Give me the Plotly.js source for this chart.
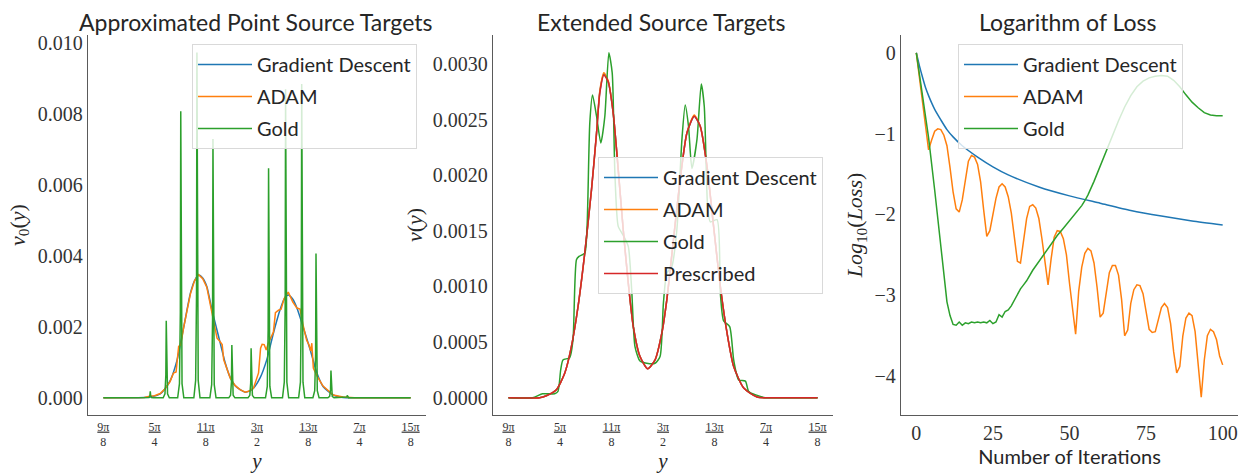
<!DOCTYPE html>
<html><head><meta charset="utf-8">
<script src="https://cdn.plot.ly/plotly-3.0.1.min.js"></script>
<style>html,body{margin:0;padding:0;background:#fff}#chart{width:1244px;height:473px}</style>
</head><body><div id="chart"></div>
<script>
// ---------- Panel 1: Approximated point source targets (x in multiples of pi/8) ----------
const p1GdX = [9.0,9.6,9.8,9.95,10.11,10.2,10.31,10.44,10.57,10.70,10.78,10.86,10.94,11.02,11.12,11.25,11.38,11.48,11.57,11.67,11.77,11.85,11.93,12.06,12.19,12.32,12.45,12.53,12.61,12.70,12.78,12.90,13.04,13.17,13.29,13.49,13.68,13.9,15.0];
const p1GdY = [0,0,0.000005,0.00003,0.00011,0.00025,0.0005,0.00107,0.0020,0.00295,0.0033,0.00346,0.00338,0.00314,0.00248,0.00173,0.00098,0.00056,0.00035,0.00023,0.00016,0.00019,0.00027,0.00056,0.00107,0.00182,0.00248,0.00278,0.0029,0.00278,0.00253,0.0020,0.00135,0.0007,0.00032,0.00008,0.00001,0,0];
const p1AdamX = [9.0,9.6,9.8,9.92,10.0,10.11,10.2,10.3,10.37,10.42,10.47,10.51,10.57,10.70,10.78,10.86,10.94,11.02,11.12,11.18,11.22,11.27,11.32,11.35,11.48,11.57,11.67,11.77,11.85,11.93,12.03,12.07,12.10,12.14,12.18,12.22,12.32,12.36,12.42,12.47,12.53,12.61,12.70,12.78,12.84,12.90,12.97,13.016,13.05,13.07,13.10,13.17,13.29,13.49,13.68,13.9,15.0];
const p1AdamY = [0,0,0.00001,0.00005,0.00006,0.00012,0.00025,0.00045,0.0007,0.00073,0.00145,0.00149,0.002,0.00293,0.0033,0.00347,0.00336,0.00312,0.00245,0.00195,0.00168,0.0016,0.0015,0.00107,0.00055,0.00035,0.00023,0.00016,0.00019,0.00027,0.0007,0.0014,0.00151,0.0015,0.00135,0.00154,0.00185,0.0024,0.00247,0.0025,0.0028,0.00298,0.0027,0.00253,0.0025,0.00205,0.00162,0.00149,0.00132,0.00154,0.00084,0.00062,0.00033,0.00008,0.00002,0,0];
const p1GoldX = [9.0,
  9.856,9.891,9.908,9.916,9.924,9.941,9.976,
  10.168,10.203,10.220,10.228,10.236,10.253,10.288,
  10.451,10.486,10.503,10.511,10.519,10.536,10.571,
  10.767,10.802,10.819,10.827,10.835,10.852,10.887,
  11.080,11.115,11.132,11.140,11.148,11.165,11.200,
  11.449,11.484,11.501,11.509,11.517,11.534,11.569,
  11.825,11.860,11.877,11.885,11.893,11.910,11.945,
  12.166,12.201,12.218,12.226,12.234,12.251,12.286,
  12.498,12.533,12.550,12.558,12.566,12.583,12.618,
  12.813,12.848,12.865,12.873,12.881,12.898,12.933,
  13.092,13.127,13.144,13.152,13.160,13.177,13.212,
  13.384,13.419,13.436,13.444,13.452,13.469,13.504,
  13.702,13.737,13.754,13.762,13.770,13.787,13.822,
  15.0];
const p1GoldY = [0,
  0,0.000009,0.000054,0.00018,0.000054,0.000009,0,
  0,0.00011,0.00065,0.00217,0.00065,0.00011,0,
  0,0.0004,0.00242,0.00808,0.00242,0.0004,0,
  0,0.00049,0.00292,0.00974,0.00292,0.00049,0,
  0,0.00037,0.00219,0.0073,0.00219,0.00037,0,
  0,0.000075,0.00045,0.00149,0.00045,0.000075,0,
  0,0.00007,0.00042,0.0014,0.00042,0.00007,0,
  0,0.00032,0.00194,0.00647,0.00194,0.00032,0,
  0,0.00044,0.00261,0.0087,0.00261,0.00044,0,
  0,0.00044,0.00266,0.00885,0.00266,0.00044,0,
  0,0.0002,0.00122,0.00407,0.00122,0.0002,0,
  0,0.00004,0.00023,0.00077,0.00023,0.00004,0,
  0,0.0000035,0.00002,0.00007,0.00002,0.0000035,0,
  0];

// ---------- Panel 2: Extended source targets ----------
const p2PresX = [9.0,9.604,9.735,9.930,10.092,10.222,10.351,10.481,10.612,10.710,10.774,10.852,10.936,11.033,11.131,11.228,11.326,11.423,11.554,11.704,11.846,11.977,12.074,12.203,12.333,12.464,12.606,12.723,12.854,12.982,13.113,13.244,13.372,13.567,13.828,14.2,15.0];
const p2PresY = [0,0,0.000018,0.000072,0.00022,0.00046,0.00082,0.0013,0.00187,0.00238,0.00274,0.0029,0.00284,0.00256,0.00205,0.00151,0.00103,0.00064,0.00037,0.00026,0.00034,0.00058,0.00088,0.00142,0.00196,0.00238,0.00253,0.00244,0.00208,0.00154,0.001,0.00058,0.00028,0.000087,0.000006,0,0];
const p2GdY   = [0,0,0.000018,0.000072,0.00022,0.00046,0.00082,0.0013,0.00187,0.00238,0.00275,0.00291,0.00284,0.00256,0.00205,0.00151,0.00103,0.00064,0.00037,0.00026,0.00034,0.00058,0.00088,0.00142,0.00196,0.00238,0.00253,0.00244,0.00208,0.00154,0.001,0.00058,0.00028,0.000087,0.000006,0,0];
const p2AdamY = [0,0,0.000018,0.000072,0.00022,0.00046,0.00082,0.0013,0.00187,0.00238,0.00276,0.00292,0.00285,0.00256,0.00205,0.00151,0.00103,0.00064,0.00037,0.00026,0.00034,0.00058,0.00088,0.00142,0.00196,0.00238,0.00254,0.00244,0.00208,0.00154,0.001,0.00058,0.00028,0.000087,0.000006,0,0];
const p2GoldX = [9.0,9.468,9.663,9.897,9.961,10.014,10.058,10.189,10.253,10.320,10.370,10.481,10.526,10.579,10.632,10.710,10.793,10.871,10.949,11.014,11.066,11.131,11.228,11.326,11.392,11.456,11.554,11.684,11.846,11.943,12.008,12.074,12.172,12.269,12.367,12.431,12.495,12.561,12.659,12.743,12.801,12.866,12.918,13.049,13.113,13.177,13.294,13.372,13.470,13.600,13.665,13.957,14.3,15.0];
const p2GoldY = [0,0,0.000036,0.000036,0.000057,0.00025,0.00034,0.00036,0.00052,0.00124,0.00127,0.0013,0.00154,0.00247,0.00272,0.00253,0.00229,0.00253,0.0031,0.00292,0.00202,0.00154,0.00146,0.00136,0.00097,0.00046,0.00033,0.00031,0.00031,0.00037,0.00085,0.00112,0.00118,0.00151,0.00232,0.00263,0.00244,0.00206,0.00232,0.00282,0.00262,0.00172,0.00158,0.0016,0.00094,0.00069,0.00064,0.00034,0.00016,0.00015,0.000057,0.000003,0,0];

// ---------- Panel 3: Logarithm of loss ----------
const p3GdX = [0,1,2,3,4,5,6,8,10,12,15,20,25,30,40,50,60,70,80,90,100];
const p3GdY = [0,-0.16,-0.30,-0.43,-0.53,-0.62,-0.70,-0.83,-0.95,-1.04,-1.15,-1.29,-1.41,-1.51,-1.66,-1.77,-1.86,-1.95,-2.02,-2.08,-2.13];
const p3AdamY = [0,-0.3,-0.65,-0.95,-1.2,-1.08,-0.97,-0.94,-0.95,-1.02,
  -1.15,-1.42,-1.72,-1.93,-1.97,-1.82,-1.55,-1.34,-1.27,-1.29,
  -1.38,-1.6,-1.95,-2.27,-2.2,-2.0,-1.8,-1.66,-1.62,-1.66,
  -1.78,-1.98,-2.25,-2.58,-2.6,-2.3,-2.05,-1.9,-1.88,-1.92,
  -2.05,-2.3,-2.6,-2.87,-2.55,-2.28,-2.2,-2.21,-2.3,-2.5,
  -2.85,-3.2,-3.48,-2.95,-2.65,-2.48,-2.42,-2.45,-2.6,-2.9,
  -3.27,-3.22,-2.95,-2.72,-2.63,-2.63,-2.75,-3.05,-3.5,-3.43,
  -3.1,-2.93,-2.87,-2.88,-2.98,-3.2,-3.42,-3.46,-3.45,-3.3,
  -3.15,-3.1,-3.15,-3.35,-3.7,-3.96,-3.88,-3.5,-3.28,-3.22,
  -3.25,-3.45,-3.85,-4.26,-3.8,-3.5,-3.42,-3.45,-3.55,-3.75,
  -3.86];
const p3AdamX = p3AdamY.map((_, i) => i);
const p3GoldX = [0,2,4,6,8,10,11,12,13,14,15,16,17,18,19,20,21,22,23,24,25,26,27,28,29,30,31,32,33,34,35,36,38,40,42,44,46,48,50,52,54,55,56,58,60,62,64,66,68,70,72,74,76,78,80,82,84,86,88,90,92,94,96,98,100];
const p3GoldY = [0,-0.5,-1.05,-1.7,-2.4,-3.08,-3.25,-3.36,-3.37,-3.33,-3.37,-3.34,-3.35,-3.33,-3.34,-3.33,-3.34,-3.33,-3.34,-3.31,-3.35,-3.33,-3.24,-3.27,-3.2,-3.18,-3.13,-3.06,-2.99,-2.92,-2.87,-2.82,-2.69,-2.58,-2.47,-2.36,-2.26,-2.17,-2.08,-1.99,-1.89,-1.83,-1.76,-1.59,-1.4,-1.2,-1.02,-0.84,-0.67,-0.53,-0.42,-0.35,-0.31,-0.29,-0.28,-0.29,-0.34,-0.42,-0.52,-0.61,-0.68,-0.74,-0.77,-0.78,-0.78];

// ---------- Labels ----------
const piTickVals = [9,10,11,12,13,14,15];
const piTickText = ['<u>9π</u><br>8','<u>5π</u><br>4','<u>11π</u><br>8','<u>3π</u><br>2','<u>13π</u><br>8','<u>7π</u><br>4','<u>15π</u><br>8'];
const seriesNames = ['Gradient Descent','ADAM','Gold','Prescribed'];
const titles = ['Approximated Point Source Targets','Extended Source Targets','Logarithm of Loss'];

const C = {gd:'#1f77b4', adam:'#ff7f0e', gold:'#2ca02c', pres:'#d62728'};
const W = 1.5;
const SANS = 'Lato, "Open Sans", sans-serif';
const SERIF = '"Liberation Serif", "DejaVu Serif", serif';
const TXT = '#262626';
const TICK = '#333333';

let gid = 0;
function tr(x, y, name, color, xa, ya, leg, shape) {
  gid += 1;
  return {x, y, name, type:'scatter', mode:'lines', xaxis:xa, yaxis:ya, legend:leg, legendgroup:'g'+gid,
          line:{color, width:W, shape:shape||'linear', smoothing:0.6}, hoverinfo:'skip'};
}
const data = [
  tr(p1GdX, p1GdY, seriesNames[0], C.gd, 'x', 'y', 'legend', 'spline'),
  tr(p1AdamX, p1AdamY, seriesNames[1], C.adam, 'x', 'y', 'legend'),
  tr(p1GoldX, p1GoldY, seriesNames[2], C.gold, 'x', 'y', 'legend'),
  tr(p2PresX, p2GdY, seriesNames[0], C.gd, 'x2', 'y2', 'legend2', 'spline'),
  tr(p2PresX, p2AdamY, seriesNames[1], C.adam, 'x2', 'y2', 'legend2', 'spline'),
  tr(p2GoldX, p2GoldY, seriesNames[2], C.gold, 'x2', 'y2', 'legend2', 'spline'),
  tr(p2PresX, p2PresY, seriesNames[3], C.pres, 'x2', 'y2', 'legend2', 'spline'),
  tr(p3GdX, p3GdY, seriesNames[0], C.gd, 'x3', 'y3', 'legend3', 'spline'),
  tr(p3AdamX, p3AdamY, seriesNames[1], C.adam, 'x3', 'y3', 'legend3'),
  tr(p3GoldX, p3GoldY, seriesNames[2], C.gold, 'x3', 'y3', 'legend3'),
];

const yDom = [1-415/473, 1-35/473];
function xax(dom, extra) {
  return Object.assign({domain:dom, showgrid:false, zeroline:false, showline:true, linecolor:'#5a5a5a', linewidth:1.2,
    ticks:'', ticklabelstandoff:0, tickfont:{family:SERIF, size:20, color:TICK}}, extra);
}
function yax(extra) {
  return Object.assign({domain:yDom, showgrid:false, zeroline:false, showline:true, linecolor:'#5a5a5a', linewidth:1.2,
    ticks:'', ticklabelstandoff:0, tickfont:{family:SERIF, size:20, color:TICK}}, extra);
}
const legBase = {bgcolor:'rgba(255,255,255,0.8)', bordercolor:'#d9d9d9', borderwidth:1,
  font:{family:SANS, size:20, color:TXT}, xanchor:'left', yanchor:'top', itemwidth:54, tracegroupgap:3};

const layout = {
  width:1244, height:473, margin:{l:0,r:0,t:0,b:0}, paper_bgcolor:'#fff', plot_bgcolor:'#fff',
  xaxis: xax([88/1244, 426/1244], {anchor:'y', range:[8.7,15.3], tickmode:'array', tickvals:piTickVals, ticktext:piTickText,
    tickfont:{family:SERIF, size:12, color:TICK}, title:{text:'<i>y</i>', font:{family:SERIF, size:21, color:TXT}, standoff:4}}),
  yaxis: yax({anchor:'x', range:[-0.000485, 0.01023], tickvals:[0,0.002,0.004,0.006,0.008,0.010], tickformat:'.3f',
    title:{text:'<i>ν</i><sub>0</sub>(<i>y</i>)', font:{family:SERIF, size:22, color:TXT}, standoff:6}}),
  xaxis2: xax([493/1244, 833/1244], {anchor:'y2', range:[8.7,15.3], tickmode:'array', tickvals:piTickVals, ticktext:piTickText,
    tickfont:{family:SERIF, size:12, color:TICK}, title:{text:'<i>y</i>', font:{family:SERIF, size:21, color:TXT}, standoff:4}}),
  yaxis2: yax({anchor:'x2', range:[-0.000155, 0.00326], tickvals:[0,0.0005,0.001,0.0015,0.002,0.0025,0.003], tickformat:'.4f',
    title:{text:'<i>ν</i>(<i>y</i>)', font:{family:SERIF, size:22, color:TXT}, standoff:4}}),
  xaxis3: xax([901/1244, 1238/1244], {anchor:'y3', range:[-5,105], tickvals:[0,25,50,75,100],
    title:{text:'Number of Iterations', font:{family:SANS, size:20, color:TXT}, standoff:2}}),
  yaxis3: yax({anchor:'x3', range:[-4.48, 0.22], tickvals:[0,-1,-2,-3,-4],
    title:{text:'<i>Log</i><sub>10</sub>(<i>Loss</i>)', font:{family:SERIF, size:22, color:TXT}, standoff:5}}),
  legend: Object.assign({}, legBase, {x:192/1244, y:1-44/473}),
  legend2: Object.assign({}, legBase, {x:598/1244, y:1-157/473}),
  legend3: Object.assign({}, legBase, {x:958/1244, y:1-44/473}),
  showlegend:true,
  annotations: [
    {text:titles[0], x:255/1244, y:1-22/473},
    {text:titles[1], x:661/1244, y:1-22/473},
    {text:titles[2], x:1067/1244, y:1-22/473},
  ].map(a => Object.assign(a, {xref:'paper', yref:'paper', xanchor:'center', yanchor:'middle', showarrow:false,
     font:{family:SANS, size:23, color:TXT}}))
};
Plotly.newPlot('chart', data, layout, {staticPlot:true, displayModeBar:false});
</script></body></html>
